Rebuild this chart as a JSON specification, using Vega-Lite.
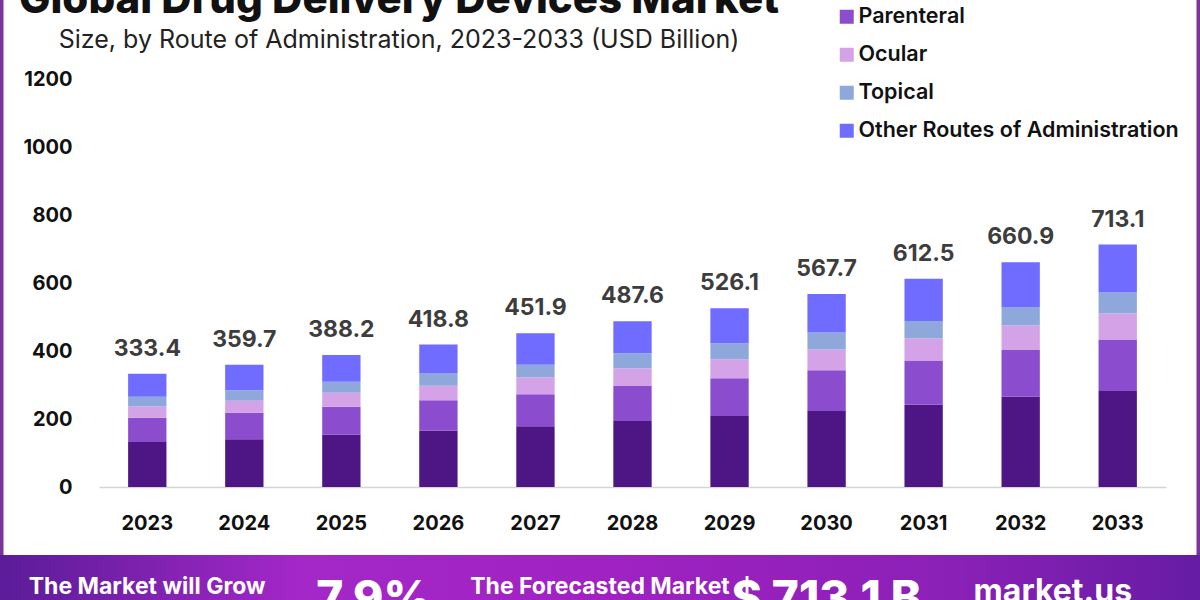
{
  "$schema": "https://vega.github.io/schema/vega-lite/v6.json",
  "width": 1200,
  "height": 600,
  "autosize": {"type": "none"},
  "padding": 0,
  "background": "white",
  "config": {
    "font": "Inter",
    "view": {"stroke": "#7b3399", "strokeWidth": 7, "strokeDash": [0, 1200, 600, 1200, 600]}
  },
  "title": {
    "text": "Global Drug Delivery Devices Market",
    "subtitle": "Size, by Route of Administration, 2023-2033 (USD Billion)",
    "anchor": "middle",
    "frame": "group",
    "dx": -201,
    "offset": -86,
    "fontSize": 42,
    "fontWeight": 800,
    "color": "#111111",
    "subtitleFontSize": 25,
    "subtitleFontWeight": 400,
    "subtitleColor": "#222222",
    "subtitlePadding": 6
  },
  "datasets": {
    "market": [
      {"year": "2023", "route": "Oral", "rank": 1, "value": 132.1},
      {"year": "2023", "route": "Parenteral", "rank": 2, "value": 71.4},
      {"year": "2023", "route": "Ocular", "rank": 3, "value": 33.3},
      {"year": "2023", "route": "Topical", "rank": 4, "value": 28.3},
      {"year": "2023", "route": "Other Routes of Administration", "rank": 5, "value": 68.3},
      {"year": "2024", "route": "Oral", "rank": 1, "value": 140.8},
      {"year": "2024", "route": "Parenteral", "rank": 2, "value": 77.3},
      {"year": "2024", "route": "Ocular", "rank": 3, "value": 35.3},
      {"year": "2024", "route": "Topical", "rank": 4, "value": 31.3},
      {"year": "2024", "route": "Other Routes of Administration", "rank": 5, "value": 75.0},
      {"year": "2025", "route": "Oral", "rank": 1, "value": 153.8},
      {"year": "2025", "route": "Parenteral", "rank": 2, "value": 82.5},
      {"year": "2025", "route": "Ocular", "rank": 3, "value": 40.8},
      {"year": "2025", "route": "Topical", "rank": 4, "value": 32.6},
      {"year": "2025", "route": "Other Routes of Administration", "rank": 5, "value": 78.5},
      {"year": "2026", "route": "Oral", "rank": 1, "value": 166.0},
      {"year": "2026", "route": "Parenteral", "rank": 2, "value": 88.9},
      {"year": "2026", "route": "Ocular", "rank": 3, "value": 42.9},
      {"year": "2026", "route": "Topical", "rank": 4, "value": 37.6},
      {"year": "2026", "route": "Other Routes of Administration", "rank": 5, "value": 83.4},
      {"year": "2027", "route": "Oral", "rank": 1, "value": 178.5},
      {"year": "2027", "route": "Parenteral", "rank": 2, "value": 94.0},
      {"year": "2027", "route": "Ocular", "rank": 3, "value": 50.1},
      {"year": "2027", "route": "Topical", "rank": 4, "value": 36.6},
      {"year": "2027", "route": "Other Routes of Administration", "rank": 5, "value": 92.7},
      {"year": "2028", "route": "Oral", "rank": 1, "value": 194.1},
      {"year": "2028", "route": "Parenteral", "rank": 2, "value": 102.6},
      {"year": "2028", "route": "Ocular", "rank": 3, "value": 51.6},
      {"year": "2028", "route": "Topical", "rank": 4, "value": 45.0},
      {"year": "2028", "route": "Other Routes of Administration", "rank": 5, "value": 94.3},
      {"year": "2029", "route": "Oral", "rank": 1, "value": 208.9},
      {"year": "2029", "route": "Parenteral", "rank": 2, "value": 110.6},
      {"year": "2029", "route": "Ocular", "rank": 3, "value": 56.4},
      {"year": "2029", "route": "Topical", "rank": 4, "value": 47.0},
      {"year": "2029", "route": "Other Routes of Administration", "rank": 5, "value": 103.2},
      {"year": "2030", "route": "Oral", "rank": 1, "value": 223.6},
      {"year": "2030", "route": "Parenteral", "rank": 2, "value": 119.5},
      {"year": "2030", "route": "Ocular", "rank": 3, "value": 61.4},
      {"year": "2030", "route": "Topical", "rank": 4, "value": 49.9},
      {"year": "2030", "route": "Other Routes of Administration", "rank": 5, "value": 113.3},
      {"year": "2031", "route": "Oral", "rank": 1, "value": 241.6},
      {"year": "2031", "route": "Parenteral", "rank": 2, "value": 130.3},
      {"year": "2031", "route": "Ocular", "rank": 3, "value": 65.6},
      {"year": "2031", "route": "Topical", "rank": 4, "value": 50.9},
      {"year": "2031", "route": "Other Routes of Administration", "rank": 5, "value": 124.1},
      {"year": "2032", "route": "Oral", "rank": 1, "value": 265.5},
      {"year": "2032", "route": "Parenteral", "rank": 2, "value": 137.4},
      {"year": "2032", "route": "Ocular", "rank": 3, "value": 71.8},
      {"year": "2032", "route": "Topical", "rank": 4, "value": 55.0},
      {"year": "2032", "route": "Other Routes of Administration", "rank": 5, "value": 131.2},
      {"year": "2033", "route": "Oral", "rank": 1, "value": 282.6},
      {"year": "2033", "route": "Parenteral", "rank": 2, "value": 151.0},
      {"year": "2033", "route": "Ocular", "rank": 3, "value": 76.7},
      {"year": "2033", "route": "Topical", "rank": 4, "value": 61.4},
      {"year": "2033", "route": "Other Routes of Administration", "rank": 5, "value": 141.4}
    ],
    "banner": [
      {"slot": 1, "kind": "caption", "label": "The Market will Grow"},
      {"slot": 2, "kind": "figure", "label": "7.9%"},
      {"slot": 3, "kind": "caption", "label": "The Forecasted Market"},
      {"slot": 4, "kind": "figure", "label": "$ 713.1 B"},
      {"slot": 5, "kind": "brand", "label": "market.us"}
    ]
  },
  "layer": [
    {
      "data": {"name": "market"},
      "encoding": {
        "x": {
          "field": "year",
          "type": "ordinal",
          "scale": {"range": [99, 1166], "paddingInner": 0.605, "paddingOuter": 0.3},
          "axis": {
            "title": null,
            "labelAngle": 0,
            "labelFontSize": 20,
            "labelFontWeight": 700,
            "labelColor": "#111111",
            "labelPadding": 26,
            "ticks": false,
            "domain": true,
            "domainColor": "#d4d4d4",
            "domainWidth": 1.5,
            "grid": false,
            "offset": -113
          }
        }
      },
      "layer": [
        {
          "mark": {"type": "bar"},
          "encoding": {
            "y": {
              "field": "value",
              "type": "quantitative",
              "stack": "zero",
              "scale": {"domain": [0, 1200], "range": [487, 79], "nice": false},
              "axis": {
                "title": null,
                "values": [0, 200, 400, 600, 800, 1000, 1200],
                "format": "d",
                "labelFontSize": 20,
                "labelFontWeight": 700,
                "labelColor": "#111111",
                "labelPadding": 0,
                "ticks": false,
                "domain": false,
                "grid": false,
                "offset": -72
              }
            },
            "color": {
              "field": "route",
              "type": "nominal",
              "sort": ["Oral", "Parenteral", "Ocular", "Topical", "Other Routes of Administration"],
              "scale": {
                "domain": ["Oral", "Parenteral", "Ocular", "Topical", "Other Routes of Administration"],
                "range": ["#4e1585", "#8b4dce", "#d4a2e6", "#8fa8dc", "#6f6cff"]
              },
              "legend": {
                "orient": "none",
                "legendX": 836,
                "legendY": -32,
                "title": null,
                "symbolType": "square",
                "symbolSize": 196,
                "symbolStrokeWidth": 0,
                "labelFontSize": 21.5,
                "labelFontWeight": 600,
                "labelColor": "#111111",
                "labelOffset": 1,
                "labelLimit": 400,
                "rowPadding": 15,
                "padding": 0
              }
            },
            "order": {"field": "rank", "type": "quantitative", "sort": "ascending"}
          }
        },
        {
          "mark": {
            "type": "text",
            "baseline": "alphabetic",
            "dy": -18,
            "fontSize": 23,
            "fontWeight": 700,
            "color": "#3d3d3d"
          },
          "encoding": {
            "y": {"aggregate": "sum", "field": "value", "type": "quantitative"},
            "text": {"aggregate": "sum", "field": "value", "type": "quantitative", "format": ".1f"}
          }
        }
      ]
    },
    {
      "data": {"name": "banner"},
      "layer": [
        {
          "transform": [{"filter": "datum.slot == 1"}],
          "mark": {
            "type": "rect",
            "color": {
              "gradient": "linear",
              "x1": 0, "y1": 0, "x2": 1, "y2": 0,
              "stops": [
                {"offset": 0, "color": "#5a1c98"},
                {"offset": 0.25, "color": "#a427c8"},
                {"offset": 0.5, "color": "#a022c2"},
                {"offset": 0.8, "color": "#8a20b6"},
                {"offset": 1, "color": "#661ca4"}
              ]
            }
          },
          "encoding": {
            "y": {"datum": 0, "type": "quantitative", "scale": {"domain": [0, 1], "range": [555, 600], "nice": false, "zero": false}, "axis": null},
            "y2": {"datum": 1}
          }
        },
        {
          "transform": [{"filter": "datum.kind == 'caption'"}],
          "mark": {"type": "text", "color": "white", "fontSize": 23, "fontWeight": 700, "baseline": "alphabetic", "align": "center"},
          "encoding": {
            "x": {"field": "slot", "type": "ordinal", "scale": {"type": "point", "domain": [1, 2, 3, 4, 5], "range": [0, 1200], "padding": 0.65}, "axis": null},
            "y": {"datum": 0.87, "type": "quantitative"},
            "text": {"field": "label"}
          }
        },
        {
          "transform": [{"filter": "datum.kind == 'figure'"}],
          "mark": {"type": "text", "color": "white", "fontSize": 46, "fontWeight": 800, "baseline": "alphabetic", "align": "center"},
          "encoding": {
            "x": {"field": "slot", "type": "ordinal"},
            "y": {"datum": 1.3, "type": "quantitative"},
            "text": {"field": "label"}
          }
        },
        {
          "transform": [{"filter": "datum.kind == 'brand'"}],
          "mark": {"type": "text", "color": "white", "fontSize": 32, "fontWeight": 700, "baseline": "alphabetic", "align": "center"},
          "encoding": {
            "x": {"field": "slot", "type": "ordinal"},
            "y": {"datum": 1.04, "type": "quantitative"},
            "text": {"field": "label"}
          }
        }
      ]
    }
  ],
  "resolve": {"scale": {"x": "independent", "y": "independent"}}
}
